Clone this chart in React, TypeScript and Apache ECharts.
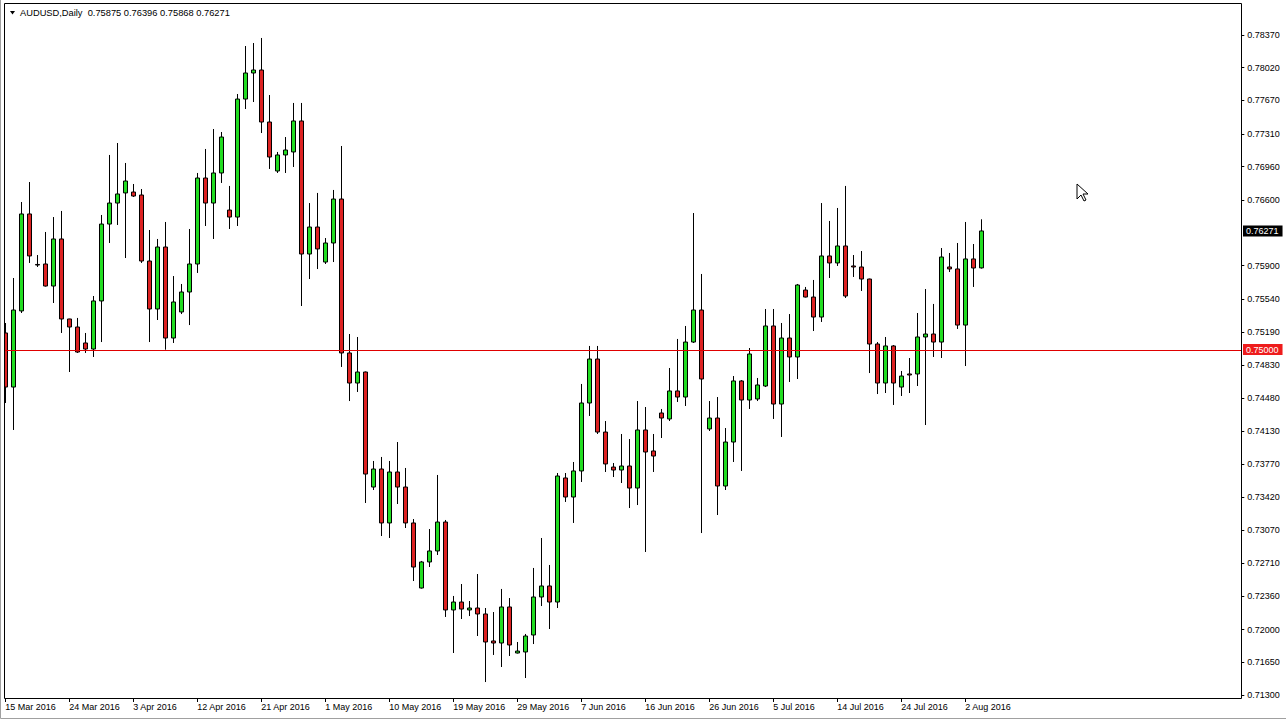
import React, { useEffect, useRef } from "react";
import * as echarts from "echarts";

const symbolTitle = "AUDUSD,Daily";

const dates = [
  "15 Mar 2016","16 Mar 2016","17 Mar 2016","18 Mar 2016","20 Mar 2016","21 Mar 2016","22 Mar 2016","23 Mar 2016","24 Mar 2016","25 Mar 2016",
  "27 Mar 2016","28 Mar 2016","29 Mar 2016","30 Mar 2016","31 Mar 2016","1 Apr 2016","3 Apr 2016","4 Apr 2016","5 Apr 2016","6 Apr 2016",
  "7 Apr 2016","8 Apr 2016","10 Apr 2016","11 Apr 2016","12 Apr 2016","13 Apr 2016","14 Apr 2016","15 Apr 2016","17 Apr 2016","18 Apr 2016",
  "19 Apr 2016","20 Apr 2016","21 Apr 2016","22 Apr 2016","24 Apr 2016","25 Apr 2016","26 Apr 2016","27 Apr 2016","28 Apr 2016","29 Apr 2016",
  "1 May 2016","2 May 2016","3 May 2016","4 May 2016","5 May 2016","6 May 2016","8 May 2016","9 May 2016","10 May 2016","11 May 2016",
  "12 May 2016","13 May 2016","15 May 2016","16 May 2016","17 May 2016","18 May 2016","19 May 2016","20 May 2016","22 May 2016","23 May 2016",
  "24 May 2016","25 May 2016","26 May 2016","27 May 2016","29 May 2016","30 May 2016","31 May 2016","1 Jun 2016","2 Jun 2016","3 Jun 2016",
  "5 Jun 2016","6 Jun 2016","7 Jun 2016","8 Jun 2016","9 Jun 2016","10 Jun 2016","12 Jun 2016","13 Jun 2016","14 Jun 2016","15 Jun 2016",
  "16 Jun 2016","17 Jun 2016","19 Jun 2016","20 Jun 2016","21 Jun 2016","22 Jun 2016","23 Jun 2016","24 Jun 2016","26 Jun 2016","27 Jun 2016",
  "28 Jun 2016","29 Jun 2016","30 Jun 2016","1 Jul 2016","3 Jul 2016","4 Jul 2016","5 Jul 2016","6 Jul 2016","7 Jul 2016","8 Jul 2016",
  "10 Jul 2016","11 Jul 2016","12 Jul 2016","13 Jul 2016","14 Jul 2016","15 Jul 2016","17 Jul 2016","18 Jul 2016","19 Jul 2016","20 Jul 2016",
  "21 Jul 2016","22 Jul 2016","24 Jul 2016","25 Jul 2016","26 Jul 2016","27 Jul 2016","28 Jul 2016","29 Jul 2016","31 Jul 2016","1 Aug 2016",
  "2 Aug 2016","3 Aug 2016","4 Aug 2016",
];

const opens = [
  0.75178,0.74599,0.75414,0.76453,0.75912,0.75917,0.75681,0.76185,0.75328,0.75242,
  0.75071,0.75006,0.75521,0.76345,0.76570,0.76678,0.76688,0.76656,0.75949,0.75435,
  0.76099,0.75124,0.75403,0.75617,0.75917,0.76838,0.76570,0.76892,0.76495,0.76420,
  0.77684,0.77963,0.77995,0.77438,0.76913,0.77085,0.77117,0.77449,0.76024,0.76313,
  0.75938,0.76142,0.76613,0.74964,0.74642,0.74760,0.73528,0.73721,0.73143,0.73689,
  0.73528,0.73143,0.72446,0.72725,0.72843,0.73153,0.72211,0.72296,0.72211,0.72232,
  0.72168,0.71879,0.71857,0.72243,0.71750,0.71761,0.71943,0.72350,0.72468,0.72296,
  0.73625,0.73421,0.73700,0.74428,0.74899,0.74117,0.73742,0.73710,0.73753,0.73517,
  0.74139,0.73914,0.74321,0.74257,0.74557,0.74492,0.75081,0.75424,0.74150,0.74267,
  0.73539,0.74010,0.74664,0.74460,0.74471,0.74610,0.75253,0.74417,0.75124,0.74921,
  0.75638,0.75563,0.75349,0.76003,0.75928,0.76110,0.75896,0.75885,0.75756,0.75060,
  0.74642,0.75039,0.74599,0.74739,0.74739,0.75135,0.75167,0.75081,0.75885,0.75864,
  0.75263,0.75971,0.75875,
];

const highs = [
  0.75285,0.75767,0.76581,0.76795,0.76013,0.76260,0.76420,0.76485,0.75330,0.75339,
  0.75178,0.75574,0.76442,0.77085,0.77213,0.76999,0.76774,0.76720,0.76281,0.76185,
  0.76367,0.75788,0.75703,0.76292,0.76892,0.77149,0.77363,0.77331,0.76753,0.77738,
  0.78252,0.78284,0.78338,0.77727,0.77117,0.77277,0.77642,0.77642,0.76570,0.76678,
  0.76195,0.76710,0.77181,0.75167,0.75135,0.74765,0.73807,0.73850,0.73807,0.74010,
  0.73732,0.73185,0.72736,0.73078,0.73657,0.73175,0.72361,0.72489,0.72307,0.72596,
  0.72232,0.72189,0.72436,0.72339,0.71868,0.71954,0.72661,0.72982,0.72693,0.73678,
  0.73678,0.73796,0.74632,0.75039,0.75039,0.74235,0.73785,0.74096,0.74042,0.74449,
  0.74385,0.74096,0.74364,0.74803,0.75114,0.75253,0.76463,0.75810,0.74449,0.74492,
  0.74160,0.74717,0.74674,0.75017,0.74696,0.75435,0.75435,0.75285,0.75381,0.75703,
  0.75671,0.75746,0.76570,0.76378,0.76517,0.76753,0.76013,0.76056,0.75760,0.75081,
  0.75135,0.75049,0.74771,0.74910,0.75392,0.75649,0.75489,0.76088,0.76035,0.76142,
  0.76367,0.76131,0.76396,
];

const lows = [
  0.74428,0.74139,0.75392,0.75928,0.75885,0.75675,0.75499,0.75178,0.74760,0.74964,
  0.74964,0.74921,0.75081,0.76142,0.76335,0.75981,0.76635,0.75928,0.75081,0.75317,
  0.74999,0.75071,0.75381,0.75263,0.75821,0.76324,0.76185,0.76785,0.76292,0.76324,
  0.77577,0.77652,0.77320,0.76935,0.76892,0.76892,0.76956,0.75467,0.75756,0.75863,
  0.75917,0.75938,0.74814,0.74449,0.74546,0.73357,0.73496,0.73003,0.72982,0.73346,
  0.73089,0.72521,0.72440,0.72671,0.72800,0.72136,0.71750,0.72114,0.72146,0.71932,
  0.71439,0.71729,0.71600,0.71718,0.71745,0.71482,0.71846,0.72253,0.72007,0.72232,
  0.73368,0.73143,0.73582,0.74289,0.74096,0.73689,0.73635,0.73571,0.73303,0.73335,
  0.72832,0.73689,0.74053,0.74235,0.74439,0.74396,0.75071,0.73035,0.74128,0.73228,
  0.73496,0.73796,0.73700,0.74364,0.74449,0.74599,0.74257,0.74064,0.74653,0.74685,
  0.75558,0.75199,0.75296,0.75767,0.75896,0.75553,0.75778,0.75628,0.74749,0.74524,
  0.74535,0.74407,0.74503,0.74535,0.74610,0.74192,0.74921,0.74910,0.75831,0.75221,
  0.74824,0.75671,0.75868,
];

const closes = [
  0.74599,0.75424,0.76453,0.76003,0.75906,0.75681,0.76185,0.75328,0.75242,0.74974,
  0.75006,0.75521,0.76345,0.76570,0.76667,0.76806,0.76645,0.75949,0.75435,0.76099,
  0.75124,0.75510,0.75617,0.75917,0.76838,0.76570,0.76892,0.77277,0.76420,0.77684,
  0.77963,0.77995,0.77438,0.77063,0.77085,0.77138,0.77449,0.76024,0.76313,0.76078,
  0.76142,0.76613,0.74964,0.74642,0.74760,0.73667,0.73721,0.73143,0.73689,0.73528,
  0.73143,0.72671,0.72725,0.72843,0.73153,0.72211,0.72296,0.72221,0.72232,0.72168,
  0.71868,0.71857,0.72243,0.71836,0.71771,0.71932,0.72350,0.72468,0.72296,0.73646,
  0.73421,0.73700,0.74428,0.74899,0.74117,0.73775,0.73710,0.73753,0.73517,0.74139,
  0.73903,0.73860,0.74267,0.74557,0.74492,0.75081,0.75424,0.74685,0.74267,0.73539,
  0.74010,0.74664,0.74460,0.74953,0.74621,0.75253,0.74417,0.75124,0.74921,0.75692,
  0.75563,0.75349,0.76003,0.75928,0.76110,0.75574,0.75885,0.75756,0.75060,0.74642,
  0.75039,0.74642,0.74717,0.74728,0.75135,0.75167,0.75081,0.75992,0.75864,0.75263,
  0.75971,0.75874,0.76271,
];

const priceTickLabels = [
  "0.71300","0.71650","0.72000","0.72360","0.72710","0.73070","0.73420","0.73770",
  "0.74130","0.74480","0.74830","0.75190","0.75540","0.75900","0.76600","0.76960",
  "0.77310","0.77670","0.78020","0.78370",
];

const levelLine = 0.75;

// layout constants
const W = 1286;
const H = 721;
const BAR_SLOTS = 155;
const Y_MIN = 0.71268;
const Y_MAX = 0.78702;
const FONT = "Liberation Sans";
const PLOT_LEFT = 4.5;
const PLOT_RIGHT = 1241.5;

export default function App() {
  const ref = useRef<HTMLDivElement>(null);

  useEffect(() => {
    if (!ref.current) return;
    const chart = echarts.init(ref.current, null, { renderer: "svg" });

    const categories = [...dates];
    while (categories.length < BAR_SLOTS) categories.push("");

    const candleData = dates.map((_, i) => [opens[i], closes[i], lows[i], highs[i]]);
    const lastOpen = opens[opens.length - 1];
    const lastHigh = highs[highs.length - 1];
    const lastLow = lows[lows.length - 1];
    const lastClose = closes[closes.length - 1];

    const showLabel = (index: number) => index % 8 === 0 && index < dates.length;

    chart.setOption({
      animation: false,
      backgroundColor: "#ffffff",
      grid: { left: 1.3, top: 4, width: BAR_SLOTS * 8, height: 694, containLabel: false },
      xAxis: {
        type: "category",
        data: categories,
        boundaryGap: true,
        axisLine: { show: false },
        axisTick: {
          show: true,
          alignWithLabel: true,
          interval: (i: number) => showLabel(i),
          length: 4,
          lineStyle: { color: "#000", width: 1 },
        },
        axisLabel: {
          interval: 0,
          formatter: (v: string, i: number) => (showLabel(i) ? v : ""),
          align: "left",
          margin: 4,
          color: "#000",
          fontFamily: FONT,
          fontSize: 9,
          hideOverlap: false,
        },
        splitLine: { show: false },
      },
      yAxis: {
        type: "value",
        position: "right",
        min: Y_MIN,
        max: Y_MAX,
        scale: true,
        axisLine: { show: false },
        splitLine: { show: false },
        axisTick: {
          show: true,
          length: 3,
          customValues: priceTickLabels.map((s) => parseFloat(s)),
          lineStyle: { color: "#000" },
        },
        axisLabel: {
          customValues: priceTickLabels.map((s) => parseFloat(s)),
          formatter: (v: number) => v.toFixed(5),
          margin: 6,
          color: "#000",
          fontFamily: FONT,
          fontSize: 9,
        },
      },
      series: [
        {
          type: "candlestick",
          data: candleData,
          barWidth: 4,
          itemStyle: {
            color: "#22dd22",
            color0: "#dd2222",
            borderColor: "#000000",
            borderColor0: "#000000",
            borderWidth: 1,
          },
        },
      ],
    });

    const yLevel = chart.convertToPixel({ yAxisIndex: 0 }, levelLine) as number;
    const yLast = chart.convertToPixel({ yAxisIndex: 0 }, lastClose) as number;
    const yLevelPx = Math.round(yLevel) + 0.5;

    const priceBox = (text: string, y: number, bg: string) => ({
      type: "text",
      silent: true,
      z: 30,
      x: 1243,
      y: y,
      style: {
        text,
        fill: "#ffffff",
        font: `9px "${FONT}"`,
        verticalAlign: "middle",
        align: "left",
        backgroundColor: bg,
        padding: [1, 4, 0, 3],
        lineHeight: 10,
      },
    });

    chart.setOption({
      graphic: [
        {
          type: "line",
          silent: true,
          z: 5,
          shape: { x1: PLOT_LEFT, y1: yLevelPx, x2: PLOT_RIGHT, y2: yLevelPx },
          style: { stroke: "#e00000", lineWidth: 1 },
        },
        priceBox(lastClose.toFixed(5), yLast, "#000000"),
        priceBox(levelLine.toFixed(5), yLevel, "#ee1c1c"),
        {
          type: "rect",
          silent: true,
          shape: { x: 4.5, y: 3.5, width: 1237, height: 695 },
          style: { fill: "none", stroke: "#000", lineWidth: 1 },
          z: 10,
        },
        {
          type: "rect",
          silent: true,
          shape: { x: 0, y: 4, width: 4, height: 694 },
          style: { fill: "#fff" },
          z: 9,
        },
        {
          type: "polyline",
          silent: true,
          shape: { points: [[0.5, 0], [0.5, 718.5], [W, 718.5]] },
          style: { stroke: "#a0a0a0", lineWidth: 1, fill: "none" },
          z: 11,
        },
        {
          type: "polygon",
          silent: true,
          shape: { points: [[10, 11], [15, 11], [12.5, 14.5]] },
          style: { fill: "#000" },
        },
        {
          type: "text",
          silent: true,
          x: 20,
          y: 13,
          style: {
            text: `${symbolTitle}  ${lastOpen.toFixed(5)} ${lastHigh.toFixed(5)} ${lastLow.toFixed(5)} ${lastClose.toFixed(5)}`,
            fill: "#000",
            font: `9.3px "${FONT}"`,
            verticalAlign: "middle",
          },
        },
        {
          type: "polygon",
          silent: true,
          z: 20,
          shape: {
            points: [[1077, 184], [1077, 199], [1081, 195], [1084, 201], [1086, 200], [1083, 194], [1088, 194]],
          },
          style: { fill: "#fff", stroke: "#000", lineWidth: 1 },
        },
      ],
    });

    return () => chart.dispose();
  }, []);

  return (
    <div
      ref={ref}
      style={{ position: "fixed", left: 0, top: 0, width: W, height: H, background: "#fff" }}
    />
  );
}
